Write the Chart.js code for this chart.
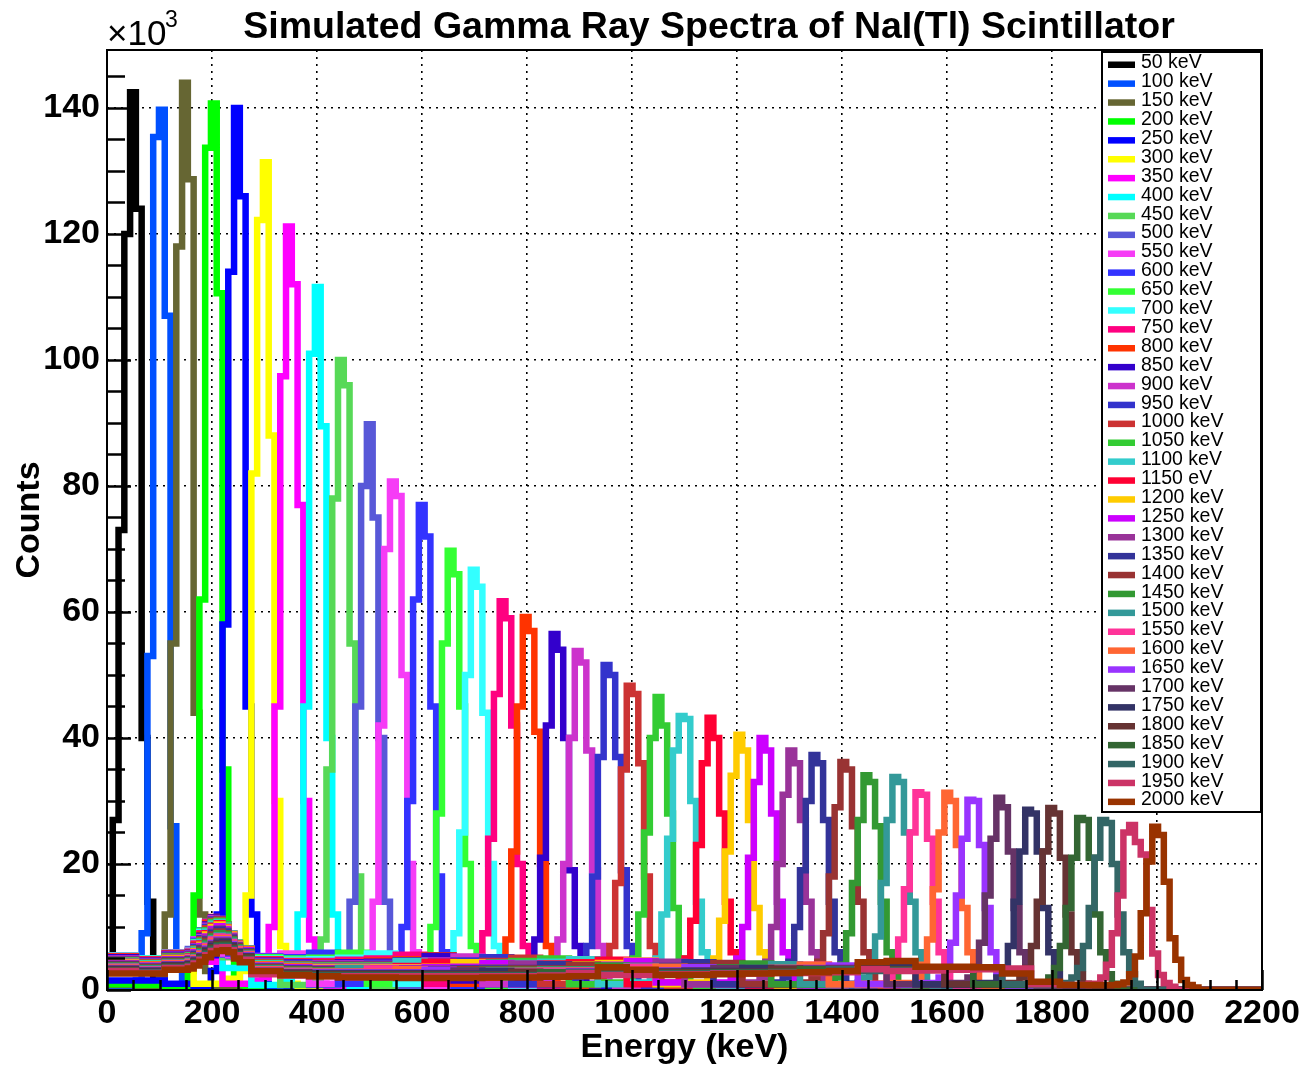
<!DOCTYPE html>
<html>
<head>
<meta charset="utf-8">
<title>Simulated Gamma Ray Spectra of NaI(Tl) Scintillator</title>
<script src="https://cdn.jsdelivr.net/npm/chart.js@4.4.0/dist/chart.umd.min.js"></script>
<style>
  html, body { margin: 0; padding: 0; background: #fff; }
  #wrap { position: relative; width: 1306px; height: 1068px; }
</style>
</head>
<body>
<div id="wrap"><canvas id="spectra" width="1306" height="1068"></canvas></div>
<script>
// legend labels, one per simulated gamma energy (the 1150 label is "eV" in the original)
var seriesLabels = ['50 keV', '100 keV', '150 keV', '200 keV', '250 keV', '300 keV', '350 keV', '400 keV',
  '450 keV', '500 keV', '550 keV', '600 keV', '650 keV', '700 keV', '750 keV', '800 keV', '850 keV',
  '900 keV', '950 keV', '1000 keV', '1050 keV', '1100 keV', '1150 eV', '1200 keV', '1250 keV',
  '1300 keV', '1350 keV', '1400 keV', '1450 keV', '1500 keV', '1550 keV', '1600 keV', '1650 keV',
  '1700 keV', '1750 keV', '1800 keV', '1850 keV', '1900 keV', '1950 keV', '2000 keV'];

var seriesColors = ['#000000', '#0050ff', '#666633', '#00ff00', '#0000ff', '#ffff00', '#ff00ff', '#00ffff',
  '#57d957', '#5858d8', '#f63cf6', '#3333ff', '#33ff33', '#33ffff', '#ff0080', '#ff3300', '#3300cc',
  '#cc33cc', '#3333cc', '#cc3333', '#33cc33', '#33cccc', '#ff0033', '#ffcc00', '#cc00ff',
  '#993399', '#333399', '#993333', '#339933', '#339999', '#ff3399', '#ff6633', '#9933ff',
  '#663366', '#333366', '#663333', '#336633', '#336666', '#cc3366', '#993300'];

// histogram: 200 bins of 11 keV over 0-2200 keV, counts in units of 10^3
var binWidth = 11;
var nBins = 200;
var xTicks = [0, 200, 400, 600, 800, 1000, 1200, 1400, 1600, 1800, 2000, 2200];
var yTicks = [0, 20, 40, 60, 80, 100, 120, 140];
var yMax = 149.2;

// first bin of each photopeak list
var peakStart = [0, 5, 9, 14, 18, 23, 27, 32, 36, 41, 45, 50, 55, 59, 64, 68, 73, 77, 82, 86,
  90, 94, 99, 104, 108, 113, 117, 122, 126, 131, 135, 140, 144, 149, 154, 158, 163, 167, 172, 176];

// photopeak counts per 11 keV bin, starting at peakStart
var peakCounts = [
  [3, 27, 73, 120, 142.5, 124, 40, 14, 2, 0.8, 0.4],
  [1.5, 9, 53, 135.4, 139.7, 107, 26, 5, 1.5, 0.6],
  [2, 12, 55, 118, 144, 128.7, 44, 12, 3, 0.8],
  [3, 15, 62, 133.7, 140.7, 110.6, 35, 8, 2, 0.8],
  [3, 12, 58, 114, 140, 126, 45, 12, 3, 1],
  [3, 15, 82, 122.2, 131.4, 88, 30, 7, 2, 1],
  [2, 10, 45, 97.4, 121.2, 112, 77, 30, 8, 2, 1],
  [3, 12, 45, 101, 111.6, 89.5, 40, 12, 3, 1],
  [2, 8, 35, 78, 100, 96, 55, 18, 5, 1.5],
  [4, 14, 45, 80, 89.8, 75, 40, 14, 4, 1.5],
  [4, 14, 42, 70, 80.7, 78.4, 50, 20, 6, 2],
  [3, 10, 30, 62, 77, 72, 45, 18, 6, 2],
  [3, 10, 28, 55, 69.7, 66, 45, 20, 7, 2.5, 1],
  [3, 9, 25, 50, 66.7, 64, 44, 20, 7, 2.5, 1],
  [3, 9, 24, 47, 61.7, 59, 42, 20, 7, 2.5, 1],
  [3, 8, 22, 45, 59.2, 57, 41, 20, 7, 2.5, 1],
  [3, 8, 21, 42, 56.5, 54, 40, 19, 7, 2.5, 1],
  [3, 8, 20, 40, 53.8, 52, 38, 19, 7, 2.5, 1],
  [3, 7, 18, 37, 51.6, 50, 37, 19, 7, 2.5, 1],
  [3, 7, 17, 35, 48.3, 47, 36, 18, 7, 2.5, 1],
  [2, 5, 12, 25, 40, 46.5, 42, 28, 13, 5, 2, 1],
  [2, 5, 12, 24, 38, 43.5, 43, 30, 14, 6, 2, 1],
  [2, 5, 11, 23, 36, 43.2, 40, 28, 14, 6, 2, 1],
  [2, 5, 11, 22, 34, 40.5, 38, 27, 13, 6, 2, 1],
  [2, 5, 10, 21, 33, 40, 38, 28, 14, 6, 2.5, 1],
  [2, 4.5, 10, 20, 31, 38, 36, 27, 14, 6, 2.5, 1],
  [2, 4.5, 10, 19, 30, 37.3, 36, 27, 14, 6, 2.5, 1],
  [2, 4.5, 9, 18, 29, 36.2, 35, 26, 14, 6, 2.5, 1],
  [2, 4, 9, 17, 27, 34.1, 33, 26, 14, 6, 2.5, 1],
  [2, 4, 8.5, 17, 27, 33.8, 33, 25, 14, 6, 2.5, 1],
  [2, 4, 8, 16, 25, 31.4, 31, 24, 14, 6, 2.5, 1],
  [2, 4, 8, 16, 25, 31.3, 30, 23, 13, 6, 2.5, 1],
  [2, 3.5, 7.5, 15, 24, 30.2, 30, 23, 13, 6, 2.5, 1],
  [2, 3.5, 7.5, 15, 24, 30.5, 29, 22, 13, 6, 2.5, 1],
  [2, 3.5, 7, 14, 22, 28.6, 28, 22, 13, 6, 2.5, 1],
  [2, 3.5, 7, 14, 22, 28.9, 28, 21, 12, 6, 2.5, 1],
  [2, 3.5, 7, 13, 21, 27.3, 27, 21, 12, 6, 2.5, 1],
  [2, 3.5, 7, 13, 21, 27, 26.5, 20, 12, 6, 2.5, 1],
  [2, 4, 9, 15, 25, 26.2, 23.5, 21.5, 12.7, 5.8, 2.4, 1.1, 0.5],
  [1.2, 2.5, 5.3, 12.2, 20.4, 25.9, 24.6, 17.2, 8.2, 4.8, 1.6, 0.8, 0.4]
];

// Compton continuum below each photopeak, one value per 55 keV (5 bins)
var contCounts = [
  [],
  [0.6],
  [0.8, 0.6],
  [0.9, 0.8, 0.6],
  [1.5, 1.5, 1.0, 0.6],
  [3.0, 3.0, 3.2, 1.0, 1.8],
  [3.5, 3.5, 3.8, 4.5, 1.0, 1.5],
  [4.0, 4.0, 4.5, 6.5, 3.5, 0.8, 1.5],
  [4.3, 4.3, 4.8, 7.5, 5.2, 3.0, 0.8, 1.4],
  [4.6, 4.5, 5.2, 8.5, 5.4, 5.2, 3.0, 0.8, 1.4],
  [4.8, 4.6, 5.5, 9.5, 5.5, 5.4, 5.8, 1.0, 1.3],
  [5.2, 4.8, 5.8, 10.2, 5.5, 5.3, 5.2, 5.9, 1.0, 1.3],
  [5.4, 5.0, 6.0, 10.8, 5.6, 5.2, 5.0, 5.1, 5.9, 1.0, 1.3],
  [5.5, 5.0, 6.0, 11.2, 5.7, 5.0, 4.8, 4.9, 5.1, 5.8, 1.0, 1.3],
  [5.4, 4.9, 5.9, 11.5, 5.8, 4.9, 4.6, 4.6, 4.8, 5.0, 5.6, 1.0, 1.3],
  [5.3, 4.8, 5.8, 11.6, 6.0, 4.8, 4.5, 4.4, 4.5, 4.7, 4.9, 5.5, 1.0, 1.3],
  [5.2, 4.7, 5.7, 11.5, 6.2, 4.7, 4.4, 4.3, 4.4, 4.5, 4.7, 5.4, 1.5, 0.9, 1.3],
  [5.0, 4.6, 5.6, 11.4, 6.4, 4.6, 4.3, 4.2, 4.2, 4.3, 4.5, 4.7, 5.3, 0.9, 0.8, 1.3],
  [4.9, 4.5, 5.5, 11.2, 6.5, 4.5, 4.2, 4.1, 4.1, 4.2, 4.3, 4.5, 4.7, 5.2, 0.9, 0.8, 1.3],
  [4.8, 4.4, 5.4, 11.0, 6.6, 4.4, 4.1, 4.0, 4.0, 4.0, 4.1, 4.3, 4.4, 4.6, 5.1, 0.9, 0.8, 1.2],
  [4.7, 4.3, 5.3, 10.8, 6.6, 4.3, 4.0, 3.9, 3.9, 3.9, 4.0, 4.1, 4.2, 4.4, 4.6, 5.0, 0.9, 1.2],
  [4.6, 4.2, 5.2, 10.6, 6.6, 4.2, 3.9, 3.8, 3.8, 3.8, 4.6, 4.0, 4.1, 4.2, 4.3, 4.5, 4.9, 0.9, 1.2],
  [4.5, 4.1, 5.1, 10.3, 6.5, 4.1, 3.8, 3.7, 3.7, 3.7, 3.8, 4.5, 3.9, 4.0, 4.1, 4.2, 4.4, 4.8, 0.9, 1.2],
  [4.4, 4.0, 5.0, 10.0, 6.4, 4.0, 3.7, 3.6, 3.6, 3.6, 3.6, 3.7, 4.4, 3.8, 3.9, 4.0, 4.1, 4.3, 4.7, 0.9, 1.2],
  [4.3, 3.9, 4.9, 9.7, 6.3, 3.9, 3.6, 3.5, 3.5, 3.5, 3.5, 3.6, 3.7, 4.3, 3.7, 3.8, 3.9, 4.0, 4.6, 1.2, 0.9, 1.2],
  [4.2, 3.8, 4.8, 9.4, 6.2, 3.8, 3.5, 3.4, 3.4, 3.4, 3.4, 3.4, 3.5, 3.6, 4.2, 3.6, 3.7, 3.8, 3.9, 4.5, 0.9, 0.8, 1.2],
  [4.1, 3.7, 4.7, 9.1, 6.1, 3.7, 3.4, 3.3, 3.3, 3.3, 3.3, 3.3, 3.4, 3.4, 3.5, 4.1, 3.5, 3.6, 3.7, 3.8, 4.4, 0.9, 0.8, 1.2],
  [4.0, 3.6, 4.6, 8.8, 6.0, 3.6, 3.3, 3.2, 3.2, 3.2, 3.2, 3.2, 3.3, 3.3, 3.4, 3.4, 4.0, 3.5, 3.5, 3.6, 3.7, 4.3, 0.9, 0.8, 1.2],
  [3.9, 3.5, 4.5, 8.5, 5.9, 3.5, 3.2, 3.1, 3.1, 3.1, 3.1, 3.1, 3.1, 3.2, 3.2, 3.3, 3.3, 3.9, 3.4, 3.4, 3.5, 3.6, 4.2, 0.9, 0.8, 1.2],
  [3.8, 3.4, 4.4, 8.2, 5.8, 3.4, 3.1, 3.0, 3.5, 3.0, 3.0, 3.0, 3.0, 3.1, 3.1, 3.2, 3.2, 3.3, 3.8, 3.3, 3.4, 3.4, 3.5, 4.1, 0.9, 0.8, 1.2],
  [3.7, 3.3, 4.3, 8.0, 5.7, 3.3, 3.0, 2.9, 2.9, 3.4, 2.9, 2.9, 2.9, 3.0, 3.0, 3.1, 3.1, 3.2, 3.7, 3.2, 3.3, 3.3, 3.4, 3.5, 4.0, 0.9, 1.0],
  [3.6, 3.3, 4.2, 7.8, 5.6, 3.2, 3.0, 2.9, 2.9, 2.9, 3.3, 2.9, 2.9, 2.9, 3.0, 3.0, 3.1, 3.1, 3.2, 3.7, 3.2, 3.3, 3.4, 3.5, 4.0, 0.9, 0.8, 1.1],
  [3.5, 3.2, 4.1, 7.6, 5.5, 3.1, 2.9, 2.8, 2.8, 2.8, 2.8, 3.2, 2.8, 2.8, 2.9, 2.9, 3.0, 3.0, 3.1, 3.1, 3.6, 3.2, 3.3, 3.4, 3.5, 3.9, 0.9, 0.8, 1.1],
  [3.4, 3.1, 4.0, 7.4, 5.4, 3.0, 2.8, 2.7, 2.7, 2.7, 2.7, 2.7, 3.1, 2.7, 2.8, 2.8, 2.9, 2.9, 3.0, 3.0, 3.1, 3.5, 3.2, 3.3, 3.4, 3.5, 3.8, 0.9, 0.8, 1.1],
  [3.3, 3.0, 3.9, 7.2, 5.3, 2.9, 2.7, 2.6, 2.6, 2.6, 2.6, 2.6, 2.6, 3.0, 2.7, 2.7, 2.8, 2.8, 2.9, 2.9, 3.0, 3.0, 3.5, 3.1, 3.2, 3.3, 3.4, 3.7, 0.9, 0.8, 1.1],
  [3.2, 2.9, 3.8, 7.0, 5.2, 2.8, 2.6, 2.5, 2.5, 2.5, 2.5, 2.5, 2.5, 2.5, 2.9, 2.6, 2.6, 2.7, 2.7, 2.8, 2.8, 2.9, 2.9, 3.4, 3.0, 3.1, 3.2, 3.3, 3.6, 0.9, 0.8, 1.1],
  [3.1, 2.8, 3.7, 6.8, 5.0, 2.7, 2.5, 2.4, 2.4, 2.4, 2.4, 2.4, 2.4, 2.4, 2.4, 2.8, 2.5, 2.6, 2.6, 2.7, 2.7, 2.8, 2.8, 2.9, 3.3, 3.0, 3.1, 3.2, 3.3, 3.5, 0.9, 0.8, 1.1],
  [3.0, 2.8, 3.6, 6.6, 4.9, 2.6, 2.4, 2.3, 2.3, 2.3, 2.3, 2.3, 2.3, 2.3, 2.3, 2.4, 2.8, 2.5, 2.5, 2.6, 2.6, 2.7, 2.7, 2.8, 2.8, 3.3, 3.0, 3.1, 3.2, 3.3, 3.4, 0.9, 0.8, 1.1],
  [3.0, 2.7, 3.5, 6.4, 4.8, 2.5, 2.3, 2.2, 2.2, 2.2, 2.2, 2.2, 2.2, 2.2, 2.2, 2.3, 2.7, 2.4, 2.4, 2.5, 2.5, 2.6, 2.6, 2.7, 2.7, 2.8, 3.3, 3.0, 3.1, 3.2, 3.3, 3.4, 0.9, 0.8, 1.0],
  [2.6, 2.6, 3.2, 5.8, 4.4, 3.0, 2.4, 2.2, 2.0, 2.0, 1.9, 1.9, 1.9, 2.0, 2.0, 2.1, 2.2, 3.6, 3.2, 2.4, 2.4, 2.5, 2.6, 2.7, 2.8, 3.0, 4.4, 4.6, 3.7, 3.7, 3.6, 2.6, 1.3, 0.8, 0.8, 0.9]
];

// backscatter bump, per 11 keV bin from bin 14 (154 keV) to bin 22, for 500 keV and up
var bumpStart = 14;
var bumpCounts = [
  null, null, null, null, null, null, null, null, null,
  [6.5, 8.0, 8.5, 7.8, 6.8, 6.0, 5.6, 5.4, 5.3],
  [6.3, 8.0, 9.2, 8.8, 7.5, 6.5, 5.8, 5.5, 5.4],
  [6.2, 7.8, 9.5, 10.0, 8.8, 7.5, 6.5, 5.8, 5.5],
  [6.2, 7.6, 9.4, 10.6, 10.0, 8.6, 7.4, 6.4, 5.7],
  [6.2, 7.5, 9.2, 10.8, 11.0, 9.8, 8.2, 7.0, 6.0],
  [6.1, 7.4, 9.0, 10.8, 11.4, 10.5, 9.0, 7.6, 6.4],
  [6.0, 7.2, 8.8, 10.6, 11.6, 11.0, 9.6, 8.0, 6.7],
  [5.9, 7.0, 8.6, 10.4, 11.5, 11.2, 10.0, 8.4, 7.0],
  [5.8, 6.9, 8.4, 10.2, 11.4, 11.3, 10.2, 8.7, 7.2],
  [5.7, 6.8, 8.2, 10.0, 11.2, 11.3, 10.4, 8.9, 7.4],
  [5.6, 6.6, 8.0, 9.8, 11.0, 11.2, 10.4, 9.0, 7.5],
  [5.5, 6.5, 7.8, 9.5, 10.8, 11.0, 10.4, 9.0, 7.5],
  [5.4, 6.4, 7.6, 9.3, 10.5, 10.8, 10.2, 9.0, 7.5],
  [5.3, 6.2, 7.4, 9.0, 10.2, 10.6, 10.0, 8.9, 7.4],
  [5.2, 6.1, 7.2, 8.8, 10.0, 10.4, 9.9, 8.8, 7.3],
  [5.1, 6.0, 7.0, 8.5, 9.7, 10.1, 9.7, 8.6, 7.2],
  [5.0, 5.8, 6.8, 8.3, 9.4, 9.8, 9.5, 8.5, 7.1],
  [4.9, 5.7, 6.6, 8.0, 9.1, 9.6, 9.3, 8.3, 7.0],
  [4.8, 5.5, 6.4, 7.8, 8.8, 9.3, 9.0, 8.1, 6.9],
  [4.7, 5.4, 6.2, 7.5, 8.5, 9.0, 8.8, 8.0, 6.8],
  [4.6, 5.2, 6.0, 7.2, 8.2, 8.7, 8.6, 7.8, 6.6],
  [4.5, 5.1, 5.8, 7.0, 8.0, 8.5, 8.4, 7.6, 6.5],
  [4.4, 5.0, 5.7, 6.8, 7.7, 8.2, 8.2, 7.4, 6.4],
  [4.3, 4.9, 5.5, 6.6, 7.5, 8.0, 8.0, 7.3, 6.2],
  [4.2, 4.8, 5.4, 6.4, 7.3, 7.8, 7.8, 7.1, 6.1],
  [4.1, 4.6, 5.2, 6.2, 7.0, 7.5, 7.6, 7.0, 6.0],
  [4.0, 4.5, 5.1, 6.0, 6.8, 7.3, 7.4, 6.8, 5.8],
  [3.9, 4.4, 5.0, 5.8, 6.6, 7.1, 7.2, 6.6, 5.7],
  [3.8, 4.3, 4.9, 5.7, 6.4, 6.9, 7.0, 6.5, 5.6],
  [3.7, 4.2, 4.8, 5.5, 6.2, 6.7, 6.8, 6.3, 5.5],
  [3.4, 3.9, 4.5, 5.2, 5.8, 6.2, 6.3, 6.0, 5.0]
];

var fontFamily = '"Liberation Sans", Arial, Helvetica, sans-serif';

// turn the continuum, bump and photopeak lists into step points (left bin edges)
function buildSpectrum(i) {
  var pts = [];
  for (var b = 0; b < nBins; b++) {
    var k = b - peakStart[i];
    var v = 0;
    if (k >= 0 && k < peakCounts[i].length) {
      v = peakCounts[i][k];
    } else if (k < 0) {
      var bump = bumpCounts[i];
      var j = b - bumpStart;
      if (bump && j >= 0 && j < bump.length) {
        v = bump[j];
      } else {
        v = contCounts[i][Math.floor(b / 5)] || 0;
      }
    }
    pts.push({ x: b * binWidth, y: v });
  }
  pts.push({ x: nBins * binWidth, y: pts[pts.length - 1].y });
  return pts;
}

var datasets = seriesLabels.map(function (label, i) {
  return {
    label: label,
    data: buildSpectrum(i),
    borderColor: seriesColors[i],
    backgroundColor: seriesColors[i],
    borderWidth: 6.5,
    pointRadius: 0,
    stepped: 'before',
    fill: false,
    tension: 0,
    borderJoinStyle: 'miter',
    order: seriesLabels.length - i // last spectrum drawn on top, like ROOT
  };
});

// frame, inward tick marks, title, x10^3 multiplier and the legend box
var frameAndText = {
  id: 'frameAndText',
  afterDatasetsDraw: function (chart) {
    var ctx = chart.ctx;
    var a = chart.chartArea;
    var xs = chart.scales.x, ys = chart.scales.y;
    ctx.save();
    ctx.strokeStyle = '#000';
    ctx.lineWidth = 2.5;
    ctx.beginPath();
    // y ticks every 5k, major every 20k
    for (var v = 0; v <= yMax; v += 5) {
      var py = Math.round(ys.getPixelForValue(v)) + 0.5;
      var len = (v % 20 === 0) ? 24 : 18;
      ctx.moveTo(a.left, py);
      ctx.lineTo(a.left + len, py);
    }
    // x ticks every 50 keV, major every 200
    for (var e = 0; e <= 2200; e += 50) {
      var px = Math.round(xs.getPixelForValue(e)) + 0.5;
      var l2 = (e % 200 === 0) ? 20 : 10;
      ctx.moveTo(px, a.bottom);
      ctx.lineTo(px, a.bottom - l2);
    }
    ctx.stroke();
    ctx.lineWidth = 2;
    ctx.strokeRect(a.left, a.top, a.right - a.left, a.bottom - a.top);
    ctx.restore();
  },
  afterDraw: function (chart) {
    var ctx = chart.ctx;
    ctx.save();
    ctx.fillStyle = '#000';
    ctx.textBaseline = 'alphabetic';
    ctx.textAlign = 'center';
    ctx.font = 'bold 37.5px ' + fontFamily;
    ctx.fillText('Simulated Gamma Ray Spectra of NaI(Tl) Scintillator', 709, 38);
    ctx.textAlign = 'left';
    ctx.font = '35px ' + fontFamily;
    ctx.fillText('\u00d710', 107, 45);
    ctx.font = '23px ' + fontFamily;
    ctx.fillText('3', 165, 27);

    // legend box
    var bx = 1102, by = 52, bw = 159, bh = 760;
    ctx.fillStyle = '#fff';
    ctx.fillRect(bx, by, bw, bh);
    ctx.font = '19.5px ' + fontFamily;
    chart.data.datasets.forEach(function (ds, i) {
      var yc = 64.5 + i * 18.9;
      ctx.fillStyle = ds.borderColor;
      ctx.fillRect(1108, yc - 3, 27, 6.5);
      ctx.fillStyle = '#000';
      ctx.fillText(ds.label, 1141, yc + 3.8);
    });
    ctx.strokeStyle = '#000';
    ctx.lineWidth = 2;
    ctx.strokeRect(bx, by, bw, bh);
    ctx.restore();
  }
};

var tickFont = { family: fontFamily, size: 34, weight: 'bold' };

new Chart(document.getElementById('spectra'), {
  type: 'line',
  data: { datasets: datasets },
  options: {
    responsive: false,
    animation: false,
    parsing: false,
    normalized: true,
    layout: { padding: { left: 0, right: 44, top: 50, bottom: 0 } },
    plugins: {
      legend: { display: false },
      tooltip: { enabled: false },
      title: { display: false }
    },
    scales: {
      x: {
        type: 'linear',
        min: 0,
        max: 2200,
        afterFit: function (s) { s.height = 78; },
        afterBuildTicks: function (s) { s.ticks = xTicks.map(function (v) { return { value: v }; }); },
        ticks: {
          color: '#000', font: tickFont, padding: 3, maxRotation: 0, autoSkip: false,
          callback: function (v) { return String(v); }
        },
        grid: { color: '#000', lineWidth: 1.6, drawTicks: false },
        border: { display: false, dash: [2, 5] },
        title: {
          display: true, text: 'Energy (keV)', color: '#000',
          font: { family: fontFamily, size: 34, weight: 'bold' },
          padding: { top: 0, bottom: 0 }
        }
      },
      y: {
        type: 'linear',
        min: 0,
        max: yMax,
        afterFit: function (s) { s.width = 107; },
        afterBuildTicks: function (s) { s.ticks = yTicks.map(function (v) { return { value: v }; }); },
        ticks: {
          color: '#000', font: tickFont, padding: 7,
          callback: function (v) { return String(v); }
        },
        grid: { color: '#000', lineWidth: 1.6, drawTicks: false },
        border: { display: false, dash: [2, 5] },
        title: {
          display: true, text: 'Counts', color: '#000',
          font: { family: fontFamily, size: 34, weight: 'bold' },
          padding: { top: 9, bottom: 0 }
        }
      }
    }
  },
  plugins: [frameAndText]
});
</script>
</body>
</html>
